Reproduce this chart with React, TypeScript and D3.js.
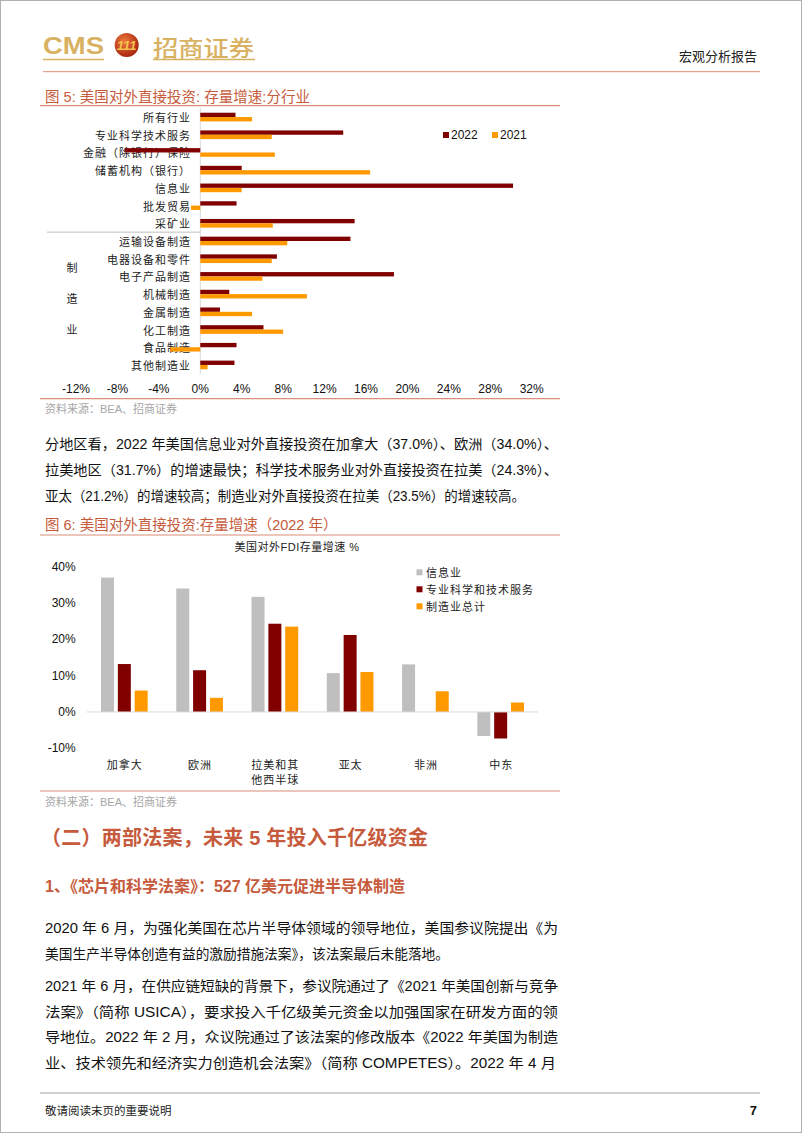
import React, { useRef, useEffect } from 'react';
import * as d3 from 'd3';

// ---- figure 5: stock growth by industry ----
const industries = [
  '所有行业', '专业科学技术服务', '金融（除银行）保险', '储蓄机构（银行）', '信息业',
  '批发贸易', '采矿业', '运输设备制造', '电器设备和零件', '电子产品制造',
  '机械制造', '金属制造', '化工制造', '食品制造', '其他制造业'
];
const growth2022 = [3.4, 13.8, -7.3, 4.0, 30.2, 3.5, 14.9, 14.5, 7.4, 18.7, 2.8, 1.9, 6.1, 3.5, 3.3];
const growth2021 = [5.0, 6.9, 7.2, 16.4, 4.0, -0.9, 7.0, 8.4, 6.9, 6.0, 10.3, 5.0, 8.0, -2.9, 0.7];
const industryYears = ['2022', '2021'];
const industryTicks = [-12, -8, -4, 0, 4, 8, 12, 16, 20, 24, 28, 32];
const manufacturingLabel = ['制', '造', '业'];

// ---- figure 6: stock growth by region (2022) ----
const regions = ['加拿大', '欧洲', '拉美和其他西半球', '亚太', '非洲', '中东'];
const regionLabelLines = [['加拿大'], ['欧洲'], ['拉美和其', '他西半球'], ['亚太'], ['非洲'], ['中东']];
const regionSeries = ['信息业', '专业科学和技术服务', '制造业总计'];
const infoGrowth = [37.0, 34.0, 31.7, 10.7, 13.1, -6.6];
const profGrowth = [13.2, 11.5, 24.3, 21.2, 0, -7.3];
const mfgGrowth = [5.9, 3.9, 23.5, 11.0, 5.7, 2.6];
const regionTicks = [-10, 0, 10, 20, 30, 40];

// ---- page text (line, width it is set to; 0 = natural) ----
const para1 = [
  '分地区看，2022 年美国信息业对外直接投资在加拿大（37.0%）、欧洲（34.0%）、',
  '拉美地区（31.7%）的增速最快；科学技术服务业对外直接投资在拉美（24.3%）、',
  '亚太（21.2%）的增速较高；制造业对外直接投资在拉美（23.5%）的增速较高。'
];
const para1Widths = [513, 513, 480];
const para2 = [
  '2020 年 6 月，为强化美国在芯片半导体领域的领导地位，美国参议院提出《为',
  '美国生产半导体创造有益的激励措施法案》，该法案最后未能落地。'
];
const para2Widths = [513, 404];
const para3 = [
  '2021 年 6 月，在供应链短缺的背景下，参议院通过了《2021 年美国创新与竞争',
  '法案》（简称 USICA），要求投入千亿级美元资金以加强国家在研发方面的领',
  '导地位。2022 年 2 月，众议院通过了该法案的修改版本《2022 年美国为制造',
  '业、技术领先和经济实力创造机会法案》（简称 COMPETES）。2022 年 4 月'
];
const para3Widths = [513, 513, 513, 511];

const W = 802;
const H = 1133;
const CJK = '"Noto Sans CJK SC", sans-serif';
const SANS = '"Liberation Sans", Arial, "Noto Sans CJK SC", sans-serif';
const ACCENT = '#C65A3C';
const RULE = '#DC8E78';
const GOLD = '#D8B262';
const C2022 = '#800000';
const C2021 = '#FF9900';
const seriesColors = ['#BFBFBF', '#800000', '#FF9900'];

const App: React.FC = () => {
  const svgRef = useRef<SVGSVGElement | null>(null);

  useEffect(() => {
    const svg = d3.select(svgRef.current);
    svg.selectAll('*').remove();

    svg.append('rect').attr('width', W).attr('height', H).attr('fill', '#fff');
    svg.append('rect')
      .attr('x', 0.5).attr('y', 0.5).attr('width', W - 1).attr('height', H - 1)
      .attr('fill', 'none').attr('stroke', '#B0B0B0').attr('stroke-width', 1);

    // header
    const defs = svg.append('defs');
    const grad = defs.append('radialGradient').attr('id', 'logoGrad')
      .attr('cx', '40%').attr('cy', '35%').attr('r', '70%');
    grad.append('stop').attr('offset', '0%').attr('stop-color', '#F07A3A');
    grad.append('stop').attr('offset', '100%').attr('stop-color', '#A2200F');

    svg.append('text')
      .attr('x', 43).attr('y', 54)
      .attr('font-family', SANS).attr('font-weight', 'bold').attr('font-size', 23)
      .attr('textLength', 61).attr('lengthAdjust', 'spacingAndGlyphs')
      .attr('fill', GOLD).text('CMS');
    svg.append('line').attr('x1', 43).attr('x2', 104).attr('y1', 59.5).attr('y2', 59.5)
      .attr('stroke', GOLD).attr('stroke-width', 1.5);
    svg.append('circle').attr('cx', 126.7).attr('cy', 45).attr('r', 12).attr('fill', 'url(#logoGrad)');
    svg.append('text')
      .attr('x', 126.7).attr('y', 49.5).attr('text-anchor', 'middle')
      .attr('font-family', SANS).attr('font-weight', 'bold').attr('font-style', 'italic')
      .attr('font-size', 13).attr('fill', '#F4C24E').text('111');
    svg.append('text')
      .attr('x', 153).attr('y', 56)
      .attr('font-family', CJK).attr('font-weight', 500).attr('font-size', 22)
      .attr('textLength', 101).attr('lengthAdjust', 'spacingAndGlyphs')
      .attr('fill', GOLD).text('招商证券');
    svg.append('line').attr('x1', 153).attr('x2', 255).attr('y1', 59.5).attr('y2', 59.5)
      .attr('stroke', GOLD).attr('stroke-width', 1.5);
    svg.append('text')
      .attr('x', 757).attr('y', 55).attr('text-anchor', 'end').attr('dominant-baseline', 'central')
      .attr('font-family', CJK).attr('font-size', 13).attr('fill', '#222').text('宏观分析报告');
    svg.append('line').attr('x1', 43).attr('x2', 760).attr('y1', 71.7).attr('y2', 71.7)
      .attr('stroke', RULE).attr('stroke-width', 1);

    const figTitle = (y: number, t: string, len?: number) => {
      const el = svg.append('text')
        .attr('x', 45).attr('y', y).attr('dominant-baseline', 'central')
        .attr('font-family', SANS).attr('font-size', 14.5).attr('fill', ACCENT).text(t);
      if (len) el.attr('textLength', len).attr('lengthAdjust', 'spacing');
    };
    const rule = (y: number) => svg.append('line')
      .attr('x1', 40).attr('x2', 560).attr('y1', y).attr('y2', y)
      .attr('stroke', RULE).attr('stroke-width', 1.2);
    const source = (y: number) => svg.append('text')
      .attr('x', 45).attr('y', y).attr('dominant-baseline', 'central')
      .attr('font-family', SANS).attr('font-size', 11).attr('fill', '#A6A6A6')
      .text('资料来源：BEA、招商证券');

    // ================= figure 5 =================
    figTitle(97.3, '图 5: 美国对外直接投资: 存量增速:分行业', 265);
    rule(105.7);

    const x5 = d3.scaleLinear().domain([-12, 32]).range([76, 531.7]);
    const y5 = d3.scaleBand<string>().domain(industries).range([108.2, 373.8])
      .paddingInner(0.51).paddingOuter(0.255);
    const sub5 = d3.scaleBand<string>().domain(industryYears).range([0, y5.bandwidth()]);

    const g5 = svg.append('g');
    g5.append('line')
      .attr('x1', x5(0)).attr('x2', x5(0)).attr('y1', 108).attr('y2', 374)
      .attr('stroke', '#D9D9D9').attr('stroke-width', 1);

    // separator between industries and manufacturing group
    const sepY = (y5(industries[7]) as number) - y5.step() * y5.paddingInner() / 2;
    g5.append('line')
      .attr('x1', 47).attr('x2', x5(0)).attr('y1', sepY).attr('y2', sepY)
      .attr('stroke', '#BFBFBF').attr('stroke-width', 1);

    g5.selectAll('.ind-label')
      .data(industries)
      .enter()
      .append('text')
      .attr('class', 'ind-label')
      .attr('x', 191)
      .attr('y', d => (y5(d) as number) + y5.bandwidth() / 2)
      .attr('text-anchor', 'end').attr('dominant-baseline', 'central')
      .attr('font-family', CJK).attr('font-size', 11).attr('letter-spacing', 1)
      .attr('fill', '#222')
      .text(d => d);

    const mfgTop = (y5(industries[7]) as number);
    const mfgBottom = (y5(industries[14]) as number) + y5.bandwidth();
    const mfgMid = (mfgTop + mfgBottom) / 2;
    manufacturingLabel.forEach((c, i) => {
      g5.append('text')
        .attr('x', 72).attr('y', mfgMid + (i - 1) * 31 - 5)
        .attr('text-anchor', 'middle').attr('dominant-baseline', 'central')
        .attr('font-family', CJK).attr('font-size', 11).attr('fill', '#222').text(c);
    });

    const barRows = industries.map((d, i) => ({ d, v22: growth2022[i], v21: growth2021[i] }));
    barRows.forEach(r => {
      const base = y5(r.d) as number;
      [['2022', r.v22, C2022], ['2021', r.v21, C2021]].forEach(([k, v, c]) => {
        const val = v as number;
        g5.append('rect')
          .attr('x', Math.min(x5(0), x5(val)))
          .attr('y', base + (sub5(k as string) as number))
          .attr('width', Math.abs(x5(val) - x5(0)))
          .attr('height', sub5.bandwidth())
          .attr('fill', c as string);
      });
    });

    g5.selectAll('.x5-tick')
      .data(industryTicks)
      .enter()
      .append('text')
      .attr('class', 'x5-tick')
      .attr('x', d => x5(d)).attr('y', 389)
      .attr('text-anchor', 'middle').attr('dominant-baseline', 'central')
      .attr('font-family', SANS).attr('font-size', 12).attr('fill', '#111')
      .text(d => `${d}%`);

    // legend
    industryYears.forEach((yr, i) => {
      const lx = i === 0 ? 443 : 492;
      g5.append('rect').attr('x', lx).attr('y', 132).attr('width', 6).attr('height', 6)
        .attr('fill', i === 0 ? C2022 : C2021);
      g5.append('text')
        .attr('x', lx + 8).attr('y', 135.3).attr('dominant-baseline', 'central')
        .attr('font-family', SANS).attr('font-size', 12).attr('fill', '#111').text(yr);
    });

    rule(398.7);
    source(408.5);

    // paragraph lines
    const paraLine = (y: number, t: string, width: number) => {
      const el = svg.append('text')
        .attr('x', 45).attr('y', y).attr('dominant-baseline', 'central')
        .attr('font-family', SANS).attr('font-size', 14).attr('fill', '#111').text(t);
      if (width) el.attr('textLength', width).attr('lengthAdjust', 'spacingAndGlyphs');
    };
    para1.forEach((t, i) => paraLine(444 + i * 26, t, para1Widths[i]));

    // ================= figure 6 =================
    figTitle(525, '图 6: 美国对外直接投资:存量增速（2022 年）');
    rule(535);

    const g6 = svg.append('g');
    g6.append('text')
      .attr('x', 297).attr('y', 547).attr('text-anchor', 'middle').attr('dominant-baseline', 'central')
      .attr('font-family', SANS).attr('font-size', 11).attr('letter-spacing', 0.5)
      .attr('fill', '#222').text('美国对外FDI存量增速 %');

    const x6 = d3.scaleBand<string>().domain(regions).range([86.7, 538.3])
      .paddingInner(0.38).paddingOuter(0.19);
    const sub6 = d3.scaleBand<string>().domain(regionSeries).range([0, x6.bandwidth()])
      .paddingInner(0.228);
    const y6 = d3.scaleLinear().domain([-10, 40]).range([748.3, 566.7]);

    g6.selectAll('.y6-tick')
      .data(regionTicks)
      .enter()
      .append('text')
      .attr('class', 'y6-tick')
      .attr('x', 75.7).attr('y', d => y6(d))
      .attr('text-anchor', 'end').attr('dominant-baseline', 'central')
      .attr('font-family', SANS).attr('font-size', 12).attr('fill', '#111')
      .text(d => `${d}%`);

    const seriesValues = [infoGrowth, profGrowth, mfgGrowth];
    regions.forEach((r, i) => {
      regionSeries.forEach((s, j) => {
        const v = seriesValues[j][i];
        if (!v) return;
        g6.append('rect')
          .attr('x', (x6(r) as number) + (sub6(s) as number))
          .attr('y', Math.min(y6(v), y6(0)))
          .attr('width', sub6.bandwidth())
          .attr('height', Math.abs(y6(v) - y6(0)))
          .attr('fill', seriesColors[j]);
      });
    });

    g6.append('line')
      .attr('x1', 86.7).attr('x2', 538.3).attr('y1', y6(0)).attr('y2', y6(0))
      .attr('stroke', '#D9D9D9').attr('stroke-width', 1);

    regions.forEach((r, i) => {
      regionLabelLines[i].forEach((ln, k) => {
        g6.append('text')
          .attr('x', (x6(r) as number) + x6.bandwidth() / 2 + 0.5)
          .attr('y', 764 + k * 14.5)
          .attr('text-anchor', 'middle').attr('dominant-baseline', 'central')
          .attr('font-family', CJK).attr('font-size', 11).attr('letter-spacing', 1)
          .attr('fill', '#222').text(ln);
      });
    });

    regionSeries.forEach((s, j) => {
      const ly = 572.3 + j * 17;
      g6.append('rect').attr('x', 416.5).attr('y', ly - 3).attr('width', 6).attr('height', 6)
        .attr('fill', seriesColors[j]);
      g6.append('text')
        .attr('x', 426).attr('y', ly).attr('dominant-baseline', 'central')
        .attr('font-family', CJK).attr('font-size', 11).attr('letter-spacing', 1)
        .attr('fill', '#222').text(s);
    });

    rule(791);
    source(801.7);

    // section headings
    svg.append('text')
      .attr('x', 41).attr('y', 838).attr('dominant-baseline', 'central')
      .attr('font-family', SANS).attr('font-weight', 'bold').attr('font-size', 20)
      .attr('textLength', 387).attr('lengthAdjust', 'spacing')
      .attr('fill', ACCENT).text('（二）两部法案，未来 5 年投入千亿级资金');
    svg.append('text')
      .attr('x', 45).attr('y', 886).attr('dominant-baseline', 'central')
      .attr('font-family', SANS).attr('font-weight', 'bold').attr('font-size', 16)
      .attr('textLength', 360).attr('lengthAdjust', 'spacing')
      .attr('fill', ACCENT).text('1、《芯片和科学法案》：527 亿美元促进半导体制造');

    para2.forEach((t, i) => paraLine(928 + i * 25.5, t, para2Widths[i]));
    para3.forEach((t, i) => paraLine(986 + i * 25.7, t, para3Widths[i]));

    // footer
    svg.append('line').attr('x1', 40).attr('x2', 760).attr('y1', 1093).attr('y2', 1093)
      .attr('stroke', '#A0A0A0').attr('stroke-width', 1);
    svg.append('text')
      .attr('x', 45).attr('y', 1110).attr('dominant-baseline', 'central')
      .attr('font-family', CJK).attr('font-size', 11.5).attr('fill', '#222').text('敬请阅读末页的重要说明');
    svg.append('text')
      .attr('x', 757).attr('y', 1110).attr('text-anchor', 'end').attr('dominant-baseline', 'central')
      .attr('font-family', SANS).attr('font-weight', 'bold').attr('font-size', 13)
      .attr('fill', '#111').text('7');
  }, []);

  return (
    <svg
      ref={svgRef}
      width={W}
      height={H}
      style={{ position: 'absolute', left: 0, top: 0, display: 'block' }}
    />
  );
};

export default App;
